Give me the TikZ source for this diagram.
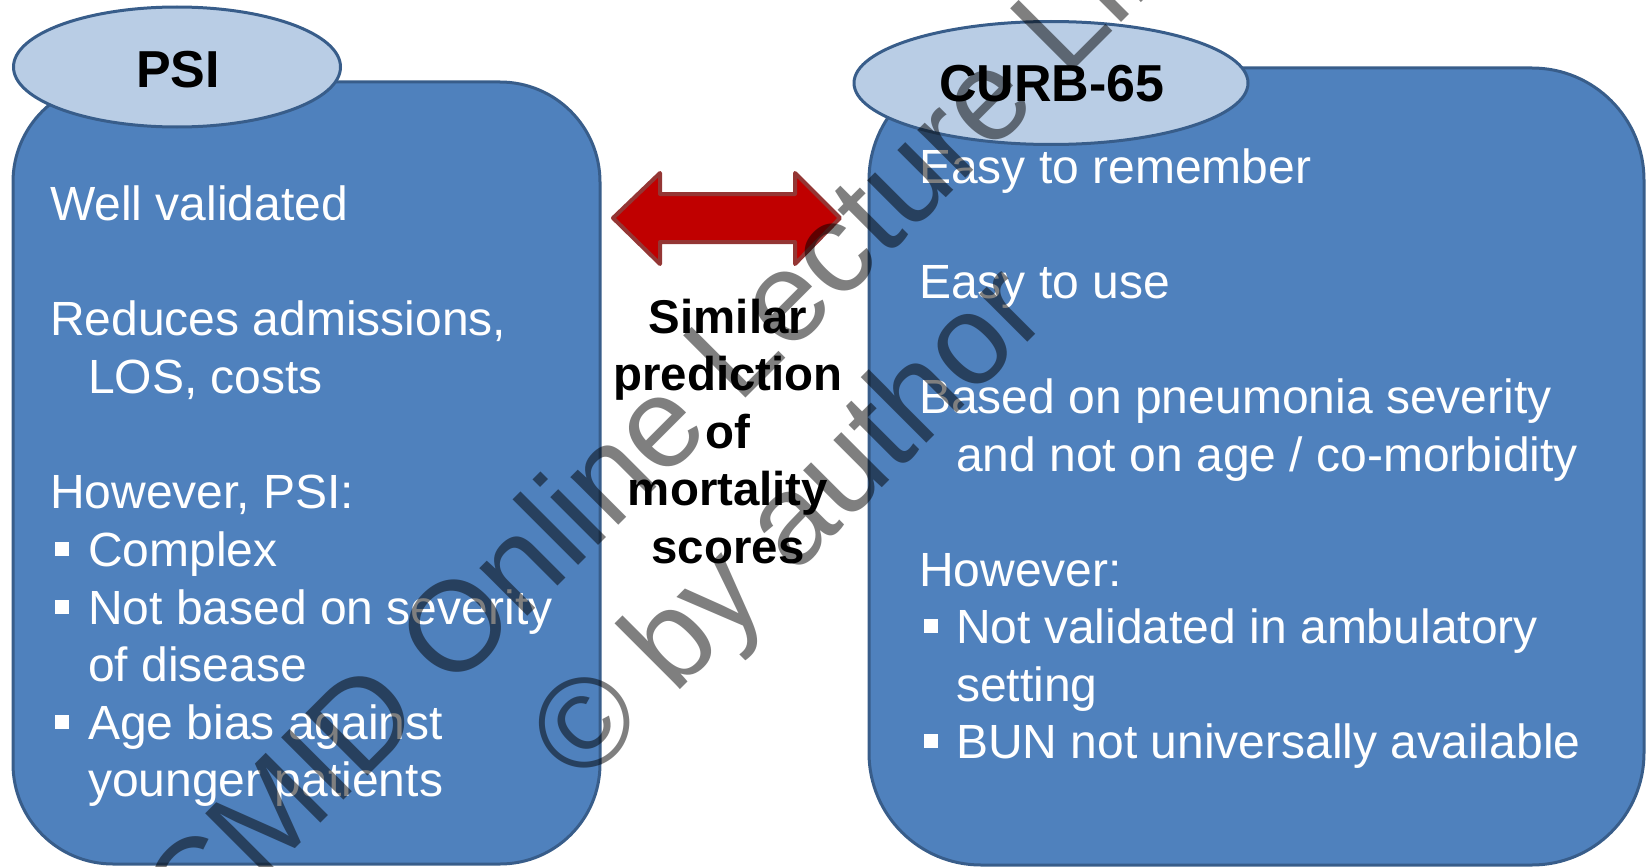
\documentclass[tikz,border=0pt]{standalone}
\usepackage{fontspec}
\setmainfont{Liberation Sans}
\usetikzlibrary{shapes.geometric}
\definecolor{boxfill}{HTML}{4F81BD}
\definecolor{boxline}{HTML}{385D8A}
\definecolor{ellfill}{HTML}{B9CDE5}
\definecolor{arrfill}{HTML}{C00000}
\definecolor{arrline}{HTML}{943634}
\newcommand\mybul{\raisebox{10pt}{\rule{14pt}{14pt}}}
\begin{document}
\begin{tikzpicture}[x=1pt,y=-1pt,
  panel/.style={draw=boxline, fill=boxfill, line width=3pt, rectangle, inner sep=0pt},
  tag/.style={draw=boxline, fill=ellfill, line width=3pt, ellipse, inner sep=0pt},
  tagtext/.style={anchor=base, inner sep=0pt, font=\fontsize{52}{60}\selectfont\bfseries},
  body/.style={anchor=base west, inner sep=0pt, text=white, font=\fontsize{48}{57.5}\selectfont},
  mid/.style={anchor=base, inner sep=0pt, font=\fontsize{47.4}{57.5}\selectfont\bfseries},
  wm/.style={anchor=base, inner sep=0pt, rotate=45, text=black, text opacity=0.5, font=\fontsize{128}{150}\selectfont},
  redarrow/.style={fill=arrfill, draw=arrline, line width=4pt, line join=round},
]
\path[use as bounding box] (0,0) rectangle (1647,867);
\clip (0,0) rectangle (1647,867);
% panels
\node[panel, rounded corners=100pt, minimum width=587pt, minimum height=782pt] (psibox) at (306.5,473) {};
\node[panel, rounded corners=112pt, minimum width=775pt, minimum height=797pt] (curbbox) at (1256.5,466.5) {};
% header ellipses
\node[tag, minimum width=327pt, minimum height=120pt] (psitag) at (177,67) {};
\node[tag, minimum width=394pt, minimum height=123pt] (curbtag) at (1051,83) {};
\node[tagtext] (psitxt) at (178,88) {PSI};
\node[tagtext] (curbtxt) at (1052,102) {CURB-65};
% left text
\node[body] (l1) at (50,220) {Well validated};
\node[body] (l2) at (50,335) {Reduces admissions,};
\node[body] (l3) at (88,393) {LOS, costs};
\node[body] (l4) at (50,508) {However, PSI:};
\node[body] (l5) at (55,566) {\makebox[33pt][l]{\mybul}Complex};
\node[body] (l6) at (55,624) {\makebox[33pt][l]{\mybul}Not based on severity};
\node[body] (l7) at (88,681) {of disease};
\node[body] (l8) at (55,739) {\makebox[33pt][l]{\mybul}Age bias against};
\node[body] (l9) at (88,796) {younger patients};
% right text
\node[body] (r1) at (919,183) {Easy to remember};
\node[body] (r2) at (919,298) {Easy to use};
\node[body] (r3) at (919,413) {Based on pneumonia severity};
\node[body] (r4) at (956,471) {and not on age / co-morbidity};
\node[body] (r5) at (919,586) {However:};
\node[body] (r6) at (924,643) {\makebox[32pt][l]{\mybul}Not validated in ambulatory};
\node[body] (r7) at (956,701) {setting};
\node[body] (r8) at (924,758) {\makebox[32pt][l]{\mybul}BUN not universally available};
% middle text
\node[mid] (m1) at (728,333) {Similar};
\node[mid] (m2) at (728,390.5) {prediction};
\node[mid] (m3) at (728,448) {of};
\node[mid] (m4) at (728,505.5) {mortality};
\node[mid] (m5) at (728,563) {scores};
% double arrow
\draw[redarrow] (613,218) -- (660,173) -- (660,194) -- (795,194) -- (795,173) -- (840,218)
  -- (795,264) -- (795,242) -- (660,242) -- (660,264) -- cycle;
% watermark
\node[wm] (wm1) at (768.5,375.5) {CMID Online Lecture Library};
\node[wm] (wm2) at (817,553) {© by author};
\end{tikzpicture}
\end{document}
